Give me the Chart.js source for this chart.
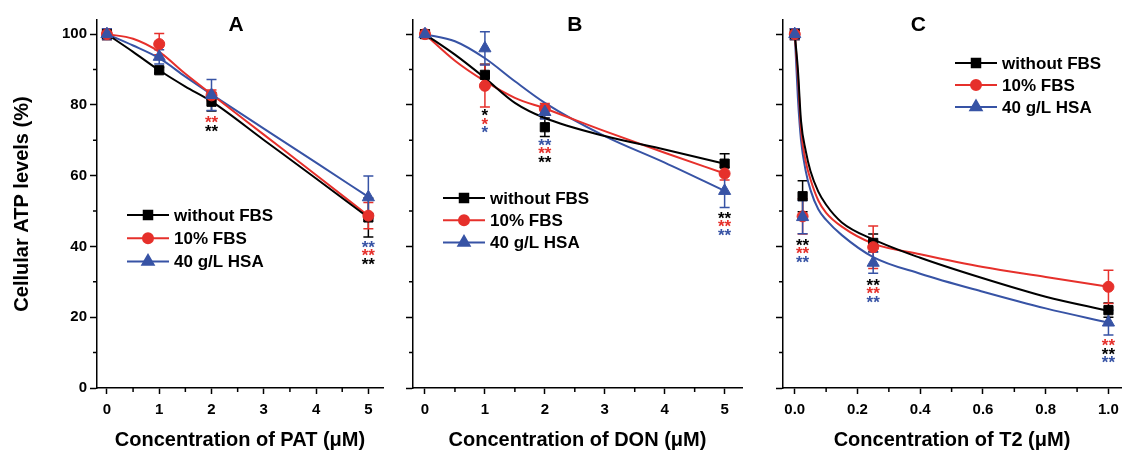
<!DOCTYPE html>
<html>
<head>
<meta charset="utf-8">
<title>Cellular ATP levels</title>
<script src="https://cdn.jsdelivr.net/npm/chart.js@4.4.0/dist/chart.umd.min.js"></script>
<style>
	body { margin: 0; background: #fff; }
	#wrap { position: relative; width: 1129px; height: 452px; }
	#wrap canvas { position: absolute; top: 0; }
</style>
</head>
<body>
<div id="wrap">
	<canvas id="chart-pat" width="395" height="452" style="left:0"></canvas>
	<canvas id="chart-don" width="355" height="452" style="left:395px"></canvas>
	<canvas id="chart-t2" width="364" height="452" style="left:765px"></canvas>
</div>
<script>
const series_names = ['without FBS', '10% FBS', '40 g/L HSA'];
const series_colors = ['#000000', '#e6302b', '#3753a5'];
const series_markers = ['rect', 'circle', 'triangle'];
const marker_sizes = [6.5, 5.5, 7];

// A - PAT
const pat_dose = [0, 1, 2, 5];
const pat_no_fbs = [100, 89.8, 80.9, 48.2];
const pat_fbs = [100, 97.2, 82.7, 48.7];
const pat_hsa = [100, 93.6, 82.8, 53.9];
const pat_no_fbs_sd = [1.5, 0.8, 2.6, 5.5];
const pat_fbs_sd = [1.5, 3, 1.5, 3.7];
const pat_hsa_sd = [1.5, 2, 4.4, 6];
const pat_fit_x = [0, 0.5, 1, 1.5, 2, 3, 4, 5];
const pat_fit_no_fbs = [100, 95, 89.8, 85.2, 81, 70.1, 59.2, 48.2];
const pat_fit_fbs = [100, 98.7, 95, 88.8, 83, 71.6, 60.2, 48.7];
const pat_fit_hsa = [100, 96.8, 93.2, 88, 83, 73.3, 63.7, 54];
const pat_stars = [
	{x: 2, y: 75.6, mark: '**', rows: [1, 0]},
	{x: 5, y: 40.5, mark: '**', rows: [2, 1, 0]}
];

// B - DON
const don_dose = [0, 1, 2, 5];
const don_no_fbs = [100, 88.5, 73.7, 63.4];
const don_fbs = [100, 85.4, 78.9, 60.6];
const don_hsa = [100, 96, 78, 55.7];
const don_no_fbs_sd = [1, 3, 2.6, 2.8];
const don_fbs_sd = [1, 6, 1.5, 1.8];
const don_hsa_sd = [1, 4.7, 2, 4.7];
const don_fit_x = [0, 0.5, 1, 1.5, 2, 3, 4, 5];
const don_fit_no_fbs = [100, 94.2, 87.6, 80.6, 76.3, 71.2, 67.4, 63.4];
const don_fit_fbs = [100, 92.5, 86.7, 82, 79, 72.6, 66.5, 60.6];
const don_fit_hsa = [100, 98, 93.2, 86.7, 80.6, 71.2, 63.7, 55.7];
const don_stars = [
	{x: 1, y: 77.6, mark: '*', rows: [0, 1, 2]},
	{x: 2, y: 69.3, mark: '**', rows: [2, 1, 0]},
	{x: 5, y: 48.7, mark: '**', rows: [0, 1, 2]}
];

// C - T2
const t2_dose = [0, 0.025, 0.25, 1];
const t2_no_fbs = [100, 54.2, 41, 22];
const t2_fbs = [100, 48.5, 39.8, 28.6];
const t2_hsa = [100, 48.3, 35.4, 18.5];
const t2_no_fbs_sd = [1.5, 4.4, 2.5, 2];
const t2_fbs_sd = [1.5, 5, 6, 4.7];
const t2_hsa_sd = [1.5, 4.7, 3, 3.5];
const t2_fit_x = [0, 0.01, 0.02, 0.035, 0.05, 0.075, 0.1, 0.15, 0.25, 0.4, 0.6, 0.8, 1];
const t2_fit_no_fbs = [100, 90, 75.4, 67, 61.3, 55.5, 51.8, 46.8, 42, 36.8, 31, 25.8, 21.8];
const t2_fit_fbs = [100, 88, 73, 64, 59, 53, 49.5, 45.6, 40.8, 37.8, 34.2, 31.4, 28.6];
const t2_fit_hsa = [100, 82, 70, 61.3, 56, 50.5, 47.5, 43.2, 37, 32.3, 27.2, 22.5, 18.5];
const t2_stars = [
	{x: 0.025, y: 41.1, mark: '**', rows: [0, 1, 2]},
	{x: 0.25, y: 29.7, mark: '**', rows: [0, 1, 2]},
	{x: 1, y: 12.6, mark: '**', rows: [1, 0, 2]}
];

const FONT = '"Liberation Sans", Arial, Helvetica, sans-serif';
Chart.defaults.font.family = FONT;
Chart.defaults.color = '#000';
Chart.defaults.animation = false;

//error bars under the markers
const errorBars = {
	id: 'errorBars',
	beforeDatasetsDraw(chart) {
		const {ctx, scales: {x, y}} = chart;
		chart.data.datasets.forEach((ds) => {
			if(!ds.sd) return;
			ctx.save();
			ctx.strokeStyle = ds.borderColor;
			ctx.lineWidth = 1.5;
			ds.data.forEach((p, j) => {
				const px = x.getPixelForValue(p.x);
				const top = y.getPixelForValue(p.y + ds.sd[j]);
				const bot = y.getPixelForValue(p.y - ds.sd[j]);
				ctx.beginPath();
				ctx.moveTo(px, top); ctx.lineTo(px, bot);
				ctx.moveTo(px - 5, top); ctx.lineTo(px + 5, top);
				ctx.moveTo(px - 5, bot); ctx.lineTo(px + 5, bot);
				ctx.stroke();
			});
			ctx.restore();
		});
	}
};

//short ticks half way between the labelled ones
const minorTicks = {
	id: 'minorTicks',
	afterDraw(chart) {
		const {ctx, chartArea, scales: {x, y}} = chart;
		ctx.save();
		ctx.strokeStyle = '#000';
		ctx.lineWidth = 1.5;
		ctx.beginPath();
		for(let i = 0; i < x.ticks.length - 1; i++) {
			const px = x.getPixelForValue((x.ticks[i].value + x.ticks[i + 1].value) / 2);
			ctx.moveTo(px, chartArea.bottom);
			ctx.lineTo(px, chartArea.bottom + 4);
		}
		for(let i = 0; i < y.ticks.length - 1; i++) {
			const py = y.getPixelForValue((y.ticks[i].value + y.ticks[i + 1].value) / 2);
			ctx.moveTo(chartArea.left, py);
			ctx.lineTo(chartArea.left - 4, py);
		}
		ctx.stroke();
		ctx.restore();
	}
};

//legend, panel letter and significance stars
const panelText = {
	id: 'panelText',
	afterDraw(chart, args, opts) {
		const {ctx, chartArea, scales: {x, y}} = chart;
		ctx.save();
		// letter
		ctx.font = 'bold 21px ' + FONT;
		ctx.fillStyle = '#000';
		ctx.textAlign = 'center';
		ctx.textBaseline = 'middle';
		ctx.fillText(opts.letter, x.getPixelForValue(opts.letterAt[0]), y.getPixelForValue(opts.letterAt[1]));

		// stars
		ctx.font = 'bold 17px ' + FONT;
		ctx.textBaseline = 'alphabetic';
		opts.stars.forEach((s) => {
			const px = x.getPixelForValue(s.x);
			const py = y.getPixelForValue(s.y);
			s.rows.forEach((c, r) => {
				ctx.fillStyle = series_colors[c];
				ctx.fillText(s.mark, px, py + r * 8.5 + 8);
			});
		});

		// legend
		const lx = chartArea.left + opts.legend.dx;
		ctx.font = 'bold 17px ' + FONT;
		ctx.textAlign = 'left';
		ctx.textBaseline = 'middle';
		series_names.forEach((name, i) => {
			const ly = chartArea.top + opts.legend.dy + i * opts.legend.gap;
			ctx.strokeStyle = series_colors[i];
			ctx.lineWidth = 2;
			ctx.beginPath();
			ctx.moveTo(lx, ly);
			ctx.lineTo(lx + 42, ly);
			ctx.stroke();
			ctx.fillStyle = series_colors[i];
			Chart.helpers.drawPoint(ctx, {pointStyle: series_markers[i], radius: marker_sizes[i] - 0.5, borderWidth: 1, rotation: 0}, lx + 21, ly);
			ctx.fillStyle = '#000';
			ctx.fillText(name, lx + 47, ly + 1);
		});
		ctx.restore();
	}
};

function buildPanel(id, p) {
	let datasets = [];
	p.fits.forEach((fit, i) => {
		datasets.push({
			label: series_names[i] + ' fit',
			data: p.fit_x.map((v, j) => ({x: v, y: fit[j]})),
			showLine: true,
			pointRadius: 0,
			borderColor: series_colors[i],
			borderWidth: 2,
			cubicInterpolationMode: 'monotone',
			order: 5
		});
	});
	p.means.forEach((m, i) => {
		datasets.push({
			label: series_names[i],
			data: p.dose.map((v, j) => ({x: v, y: m[j]})),
			sd: p.sds[i],
			showLine: false,
			pointStyle: series_markers[i],
			pointRadius: marker_sizes[i],
			backgroundColor: series_colors[i],
			borderColor: series_colors[i],
			borderWidth: 1,
			order: 3 - i
		});
	});

	return new Chart(document.getElementById(id), {
		type: 'scatter',
		data: {datasets: datasets},
		plugins: [errorBars, minorTicks, panelText],
		options: {
			responsive: false,
			layout: {padding: {top: 20, right: p.pad_right, left: 0, bottom: 0}},
			plugins: {
				legend: {display: false},
				tooltip: {enabled: false},
				panelText: {letter: p.letter, letterAt: p.letter_at, stars: p.stars, legend: p.legend}
			},
			scales: {
				x: {
					type: 'linear',
					min: p.x_min,
					max: p.x_max,
					ticks: {
						stepSize: p.x_step,
						includeBounds: false,
						maxRotation: 0,
						padding: 7,
						font: {size: 15, weight: 'bold'},
						callback: p.x_format
					},
					grid: {drawOnChartArea: false, tickLength: 6, tickWidth: 1.5, tickColor: '#000'},
					border: {color: '#000', width: 1.5},
					title: {display: true, text: p.x_title, font: {size: 20, weight: 'bold'}, padding: {top: 0, bottom: 0}},
					afterFit: (s) => { s.height = 64; }
				},
				y: {
					type: 'linear',
					min: 0,
					max: 104,
					ticks: {
						stepSize: 20,
						includeBounds: false,
						padding: 3,
						font: {size: 15, weight: 'bold'},
						callback: (v) => p.y_labels ? v : ''
					},
					grid: {drawOnChartArea: false, tickLength: 7, tickWidth: 1.5, tickColor: '#000'},
					border: {color: '#000', width: 1.5},
					title: {display: p.y_labels, text: 'Cellular ATP levels (%)', font: {size: 20, weight: 'bold'}, padding: {top: 10, bottom: 0}},
					afterFit: (s) => { s.width = p.y_width; }
				}
			}
		}
	});
}

buildPanel('chart-pat', {
	dose: pat_dose,
	means: [pat_no_fbs, pat_fbs, pat_hsa],
	sds: [pat_no_fbs_sd, pat_fbs_sd, pat_hsa_sd],
	fit_x: pat_fit_x,
	fits: [pat_fit_no_fbs, pat_fit_fbs, pat_fit_hsa],
	stars: pat_stars,
	letter: 'A', letter_at: [2.47, 102.6],
	legend: {dx: 30, dy: 195, gap: 23.3},
	x_min: -0.19, x_max: 5.28, x_step: 1,
	x_format: (v) => v,
	x_title: 'Concentration of PAT (\u03bcM)',
	y_labels: true, y_width: 97, pad_right: 12
});

buildPanel('chart-don', {
	dose: don_dose,
	means: [don_no_fbs, don_fbs, don_hsa],
	sds: [don_no_fbs_sd, don_fbs_sd, don_hsa_sd],
	fit_x: don_fit_x,
	fits: [don_fit_no_fbs, don_fit_fbs, don_fit_hsa],
	stars: don_stars,
	letter: 'B', letter_at: [2.5, 102.6],
	legend: {dx: 30, dy: 178, gap: 22.2},
	x_min: -0.2, x_max: 5.29, x_step: 1,
	x_format: (v) => v,
	x_title: 'Concentration of DON (\u03bcM)',
	y_labels: false, y_width: 18, pad_right: 3
});

buildPanel('chart-t2', {
	dose: t2_dose,
	means: [t2_no_fbs, t2_fbs, t2_hsa],
	sds: [t2_no_fbs_sd, t2_fbs_sd, t2_hsa_sd],
	fit_x: t2_fit_x,
	fits: [t2_fit_no_fbs, t2_fit_fbs, t2_fit_hsa],
	stars: t2_stars,
	letter: 'C', letter_at: [0.394, 102.6],
	legend: {dx: 172, dy: 43, gap: 22},
	x_min: -0.0375, x_max: 1.04, x_step: 0.2,
	x_format: (v) => v.toFixed(1),
	x_title: 'Concentration of T2 (\u03bcM)',
	y_labels: false, y_width: 18, pad_right: 2
});
</script>
</body>
</html>
